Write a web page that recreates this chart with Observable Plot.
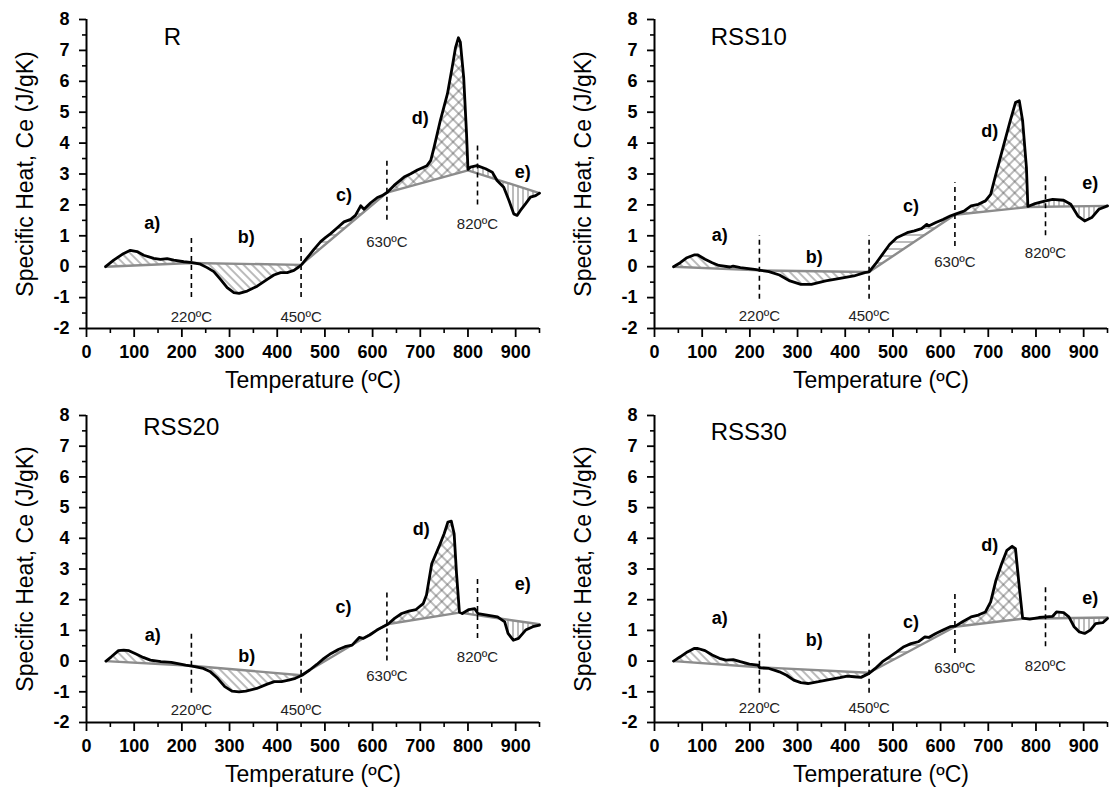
<!DOCTYPE html>
<html><head><meta charset="utf-8">
<script src="https://cdn.jsdelivr.net/npm/d3@7"></script>
<script src="https://cdn.jsdelivr.net/npm/@observablehq/plot@0.6"></script>
<style>
html,body{margin:0;padding:0;background:#fff;}
body{width:1112px;height:806px;overflow:hidden;font-family:"Liberation Sans",Arial,sans-serif;}
#grid{display:grid;grid-template-columns:556px 556px;grid-template-rows:403px 403px;}
#grid svg{display:block;}
</style></head><body>
<svg width="0" height="0" style="position:absolute">
<defs>
<pattern id="hDiag" width="6" height="6" patternUnits="userSpaceOnUse" patternTransform="rotate(-45)"><line x1="3" y1="0" x2="3" y2="6" stroke="#555" stroke-width="0.8"/></pattern>
<pattern id="hHoriz" width="7" height="7" patternUnits="userSpaceOnUse"><line x1="0" y1="3.5" x2="7" y2="3.5" stroke="#555" stroke-width="0.8"/></pattern>
<pattern id="hCross" width="8" height="8" patternUnits="userSpaceOnUse" patternTransform="rotate(45)"><line x1="4" y1="0" x2="4" y2="8" stroke="#555" stroke-width="0.8"/><line x1="0" y1="4" x2="8" y2="4" stroke="#555" stroke-width="0.8"/></pattern>
<pattern id="hVert" width="5" height="5" patternUnits="userSpaceOnUse"><line x1="2.5" y1="0" x2="2.5" y2="5" stroke="#555" stroke-width="0.8"/></pattern>
</defs></svg>
<div id="grid"></div>
<script>
// ---- data ----
const xTicks = [0,100,200,300,400,500,600,700,800,900];
const xMinor = [50,150,250,350,450,550,650,750,850,950];
const yTicks = [-2,-1,0,1,2,3,4,5,6,7,8];
const yMinor = [-1.5,-0.5,0.5,1.5,2.5,3.5,4.5,5.5,6.5,7.5];
const regionNames = ["a)","b)","c)","d)","e)"];
const regionPatterns = ["hDiag","hDiag","hHoriz","hCross","hVert"];
const dashTemps = [220,450,630,820];
const panelNames = ["R","RSS10","RSS20","RSS30"];

// curves: [temperature, Ce]
const curveR = [[40,0],[57,0.21],[75,0.40],[92,0.53],[106,0.49],[120,0.37],[141,0.27],[155,0.24],[169,0.26],[183,0.21],[204,0.16],[222,0.13],[239,0.08],[253,-0.03],[267,-0.16],[281,-0.41],[295,-0.68],[309,-0.84],[320,-0.86],[337,-0.79],[358,-0.63],[379,-0.41],[393,-0.27],[407,-0.19],[421,-0.19],[435,-0.12],[445,-0.01],[452,0.08],[463,0.29],[477,0.56],[491,0.81],[501,0.94],[512,1.07],[526,1.26],[540,1.45],[554,1.53],[564,1.66],[575,1.97],[582,1.86],[596,2.07],[610,2.24],[620,2.30],[631,2.41],[645,2.63],[666,2.90],[680,3.01],[694,3.13],[714,3.27],[722,3.44],[729,3.87],[742,4.73],[757,5.60],[767,6.46],[774,7.10],[780,7.41],[784,7.27],[791,6.13],[797,4.30],[800,3.15],[805,3.22],[819,3.27],[837,3.17],[851,3.06],[861,2.79],[875,2.57],[886,2.14],[896,1.71],[903,1.66],[910,1.82],[921,2.04],[931,2.25],[942,2.30],[950,2.38]];
const curveRSS10 = [[40,0],[54,0.13],[68,0.29],[83,0.38],[91,0.38],[106,0.24],[121,0.13],[135,0.04],[158,-0.01],[165,0.02],[180,-0.03],[210,-0.09],[240,-0.16],[262,-0.27],[284,-0.46],[307,-0.57],[329,-0.57],[359,-0.46],[389,-0.38],[418,-0.30],[441,-0.19],[450,-0.17],[463,0.08],[478,0.40],[493,0.72],[508,0.94],[530,1.10],[545,1.16],[560,1.23],[571,1.37],[575,1.32],[590,1.43],[605,1.53],[620,1.64],[631,1.70],[649,1.80],[664,1.97],[679,2.02],[694,2.13],[705,2.34],[716,3.0],[731,3.86],[746,4.72],[757,5.31],[765,5.37],[772,4.72],[780,3.21],[783,1.95],[798,2.04],[820,2.13],[835,2.18],[858,2.15],[873,2.02],[888,1.64],[902,1.48],[917,1.59],[932,1.86],[950,1.97]];
const curveRSS20 = [[41,0],[52,0.14],[67,0.34],[78,0.36],[89,0.34],[104,0.23],[119,0.12],[134,0.03],[156,-0.02],[178,-0.04],[208,-0.13],[227,-0.18],[245,-0.24],[260,-0.35],[275,-0.56],[290,-0.83],[305,-0.98],[320,-1.00],[334,-0.98],[357,-0.89],[379,-0.75],[394,-0.67],[409,-0.67],[424,-0.62],[438,-0.56],[452,-0.46],[468,-0.29],[483,-0.11],[498,0.09],[513,0.25],[528,0.38],[542,0.47],[557,0.52],[572,0.77],[580,0.74],[594,0.85],[609,1.01],[632,1.20],[646,1.39],[661,1.55],[676,1.63],[691,1.68],[706,1.87],[713,2.15],[724,3.17],[739,3.72],[750,4.15],[758,4.53],[765,4.56],[771,4.15],[776,2.85],[782,1.60],[788,1.55],[802,1.68],[814,1.71],[821,1.55],[840,1.50],[862,1.44],[877,1.28],[884,0.90],[895,0.68],[906,0.74],[921,1.01],[936,1.12],[950,1.17]];
const curveRSS30 = [[40,0],[54,0.14],[69,0.30],[83,0.41],[91,0.41],[106,0.34],[121,0.20],[136,0.09],[150,0.03],[165,0.05],[180,-0.02],[199,-0.10],[217,-0.13],[221,-0.22],[240,-0.24],[262,-0.35],[277,-0.46],[292,-0.62],[307,-0.70],[322,-0.73],[344,-0.67],[366,-0.60],[389,-0.54],[404,-0.49],[419,-0.51],[433,-0.53],[450,-0.40],[463,-0.24],[478,-0.02],[493,0.14],[508,0.30],[523,0.47],[538,0.57],[553,0.63],[567,0.79],[575,0.77],[590,0.90],[605,1.01],[620,1.12],[631,1.14],[646,1.28],[664,1.44],[679,1.50],[694,1.60],[705,1.93],[716,2.63],[728,3.17],[739,3.61],[750,3.74],[757,3.66],[765,2.42],[772,1.40],[787,1.37],[806,1.42],[821,1.44],[835,1.46],[843,1.60],[858,1.58],[869,1.44],[880,1.12],[891,0.95],[902,0.90],[914,1.01],[925,1.22],[940,1.25],[950,1.39]];

// straight baselines: breakpoints [temperature, Ce]
const baseR = [[40,0],[220,0.12],[450,0.06],[630,2.4],[800,3.12],[950,2.38]];
const baseRSS10 = [[40,0],[220,-0.12],[450,-0.17],[630,1.68],[783,1.93],[950,1.97]];
const baseRSS20 = [[40,0],[220,-0.15],[450,-0.46],[630,1.2],[782,1.58],[950,1.2]];
const baseRSS30 = [[40,0],[220,-0.2],[450,-0.38],[630,1.12],[772,1.38],[950,1.42]];

// dashed markers: [bottom Ce, top Ce, label Ce] for 220, 450, 630, 820
const dashR = [[-1,1,-1.62],[-1,1,-1.62],[1.5,3.5,0.79],[2.0,4.0,1.37]];
const dashRSS10 = [[-1.05,1.0,-1.6],[-1.05,1.0,-1.6],[0.65,2.72,0.15],[1.0,3.0,0.45]];
const dashRSS20 = [[-1.05,1.0,-1.6],[-1.05,1.0,-1.6],[0.0,2.25,-0.49],[0.74,2.74,0.14]];
const dashRSS30 = [[-1.05,1.0,-1.54],[-1.05,1.0,-1.54],[0.25,2.25,-0.24],[0.47,2.52,-0.18]];

// region letter label anchors [temperature, Ce]
const lettersR = [[138,1.41],[335,0.94],[540,2.30],[700,4.79],[915,3.06]];
const lettersRSS10 = [[137,1.02],[335,0.31],[538,1.97],[703,4.40],[914,2.69]];
const lettersRSS20 = [[139,0.85],[336,0.16],[539,1.77],[702,4.31],[915,2.49]];
const lettersRSS30 = [[137,1.39],[335,0.68],[538,1.28],[703,3.77],[914,2.04]];

// panel name anchors [temperature, Ce]
const nameAnchors = [[162,7.43],[118,7.42],[119,7.62],[118,7.45]];

const curves = [curveR, curveRSS10, curveRSS20, curveRSS30];
const bases = [baseR, baseRSS10, baseRSS20, baseRSS30];
const dashes = [dashR, dashRSS10, dashRSS20, dashRSS30];
const letters = [lettersR, lettersRSS10, lettersRSS20, lettersRSS30];

const FONT = '"Liberation Sans", Arial, sans-serif';
const W = 556, H = 403;

function makePanel(k) {
  const col = k % 2, row = Math.floor(k / 2);
  const ml = col === 0 ? 86 : 98, mr = col === 0 ? 17 : 5;
  const mt = row === 0 ? 19 : 12, mb = row === 0 ? 75 : 84;
  const ylabX = col === 0 ? 25 : 27;
  const curve = curves[k], base = bases[k];
  const hatchMarks = [];
  for (let i = 0; i < 5; i++) {
    const [x0, b0] = base[i], [x1, b1] = base[i + 1];
    const pts = curve.filter(d => d[0] > x0 && d[0] < x1);
    const poly = [[x0, b0], ...pts, [x1, b1]];
    hatchMarks.push(Plot.line(poly, {x: d => d[0], y: d => d[1], fill: `url(#${regionPatterns[i]})`, stroke: "none"}));
  }
  const dashData = dashTemps.map((t, i) => ({t, lo: dashes[k][i][0], hi: dashes[k][i][1], ly: dashes[k][i][2]}));
  const letterData = regionNames.map((n, i) => ({n, x: letters[k][i][0], y: letters[k][i][1]}));
  return Plot.plot({
    width: W, height: H,
    marginLeft: ml, marginRight: mr, marginTop: mt, marginBottom: mb,
    x: {domain: [0, 950]},
    y: {domain: [-2, 8]},
    style: {fontFamily: FONT, fontSize: "18px", color: "black", background: "white"},
    marks: [
      ...hatchMarks,
      Plot.line(base, {x: d => d[0], y: d => d[1], stroke: "#8c8c8c", strokeWidth: 2.4}),
      Plot.line(curve, {x: d => d[0], y: d => d[1], stroke: "black", strokeWidth: 2.8, strokeLinejoin: "round"}),
      Plot.ruleX(dashData, {x: "t", y1: "lo", y2: "hi", stroke: "black", strokeWidth: 1.6, strokeDasharray: "5,4"}),
      Plot.text(dashData, {x: "t", y: "ly", text: d => `${d.t}ºC`, fontSize: 15, fill: "#222"}),
      Plot.text(letterData, {x: "x", y: "y", text: "n", fontSize: 18, fontWeight: "bold"}),
      Plot.text([panelNames[k]], {x: () => nameAnchors[k][0], y: () => nameAnchors[k][1], textAnchor: "start", fontSize: 24}),
      Plot.axisX({ticks: xTicks, tickSize: 9, tickPadding: 8, tickFormat: d => String(d), fontSize: 18, fontWeight: "bold", strokeWidth: 1.8, label: null}),
      Plot.axisX({ticks: xMinor, tickSize: 5, text: null, strokeWidth: 1.6, label: null}),
      Plot.axisY({ticks: yTicks, tickSize: 7, tickPadding: 10, tickFormat: d => String(d), fontSize: 18, fontWeight: "bold", strokeWidth: 1.8, label: null}),
      Plot.axisY({ticks: yMinor, tickSize: 4, text: null, strokeWidth: 1.6, label: null}),
      Plot.ruleY([-2], {stroke: "black", strokeWidth: 2}),
      Plot.ruleX([0], {stroke: "black", strokeWidth: 2}),
      Plot.text(["Temperature (ºC)"], {frameAnchor: "bottom", dy: 59, fontSize: 23}),
      Plot.text(["Specific Heat, Ce (J/gK)"], {frameAnchor: "left", textAnchor: "middle", rotate: -90, dx: ylabX - ml, fontSize: 23})
    ]
  });
}
const grid = document.getElementById("grid");
for (let k = 0; k < 4; k++) grid.appendChild(makePanel(k));
</script>
</body></html>
